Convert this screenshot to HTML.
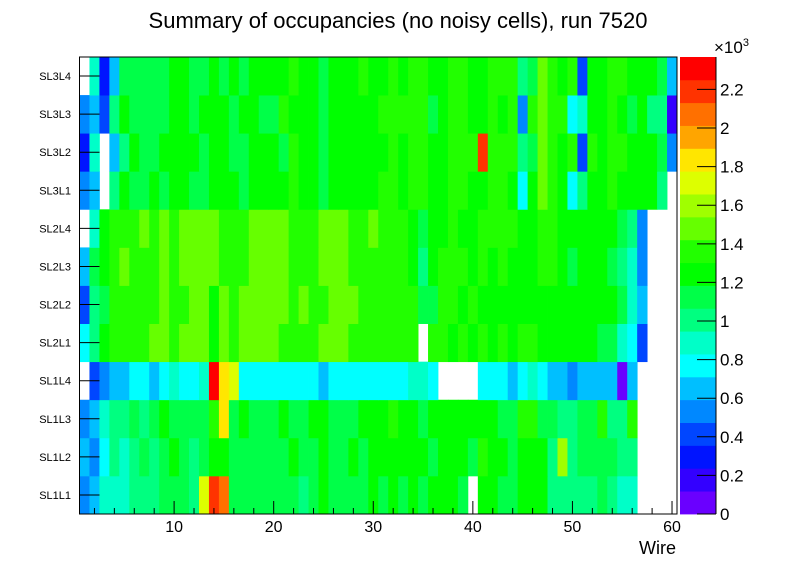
<!DOCTYPE html>
<html><head><meta charset="utf-8">
<style>
html,body{margin:0;padding:0;background:#fff;}
svg{display:block;font-family:"Liberation Sans",sans-serif;}
</style></head>
<body>
<svg id="chart" width="796" height="572" viewBox="0 0 796 572">
<text x="398" y="28" text-anchor="middle" font-size="22">Summary of occupancies (no noisy cells), run 7520</text>
<g id="cells"></g>
<g id="axes"></g>
<g id="cbar"></g>
<text x="676" y="554" text-anchor="end" font-size="18">Wire</text>
</svg>
<script>
const rowLabels = ["SL1L1","SL1L2","SL1L3","SL1L4","SL2L1","SL2L2","SL2L3","SL2L4","SL3L1","SL3L2","SL3L3","SL3L4"];
const xTickLabels = [10,20,30,40,50,60];
const zTickLabels = [0,0.2,0.4,0.6,0.8,1,1.2,1.4,1.6,1.8,2,2.2];
const zMax = 2368;
const palette = ["#6a00ff","#3300ff","#0014ff","#0046ff","#0088ff","#00bfff","#00ffff","#00ffc8","#00ff80","#00ff48","#00ff00","#22ff00","#66ff00","#a0ff00","#ddff00","#ffe600","#ffa500","#ff7000","#ff3300","#ff0000"];
const SL1L1 = [530,650,890,890,890,1010,1010,1010,1130,1130,1130,1010,1720,2190,2070,1130,1130,1130,1130,1130,1130,1130,1010,1130,1240,1130,1130,1130,1130,1240,1130,1240,1130,1240,1130,1240,1240,1240,1130,null,1240,1240,1130,1130,1240,1240,1240,1010,1010,1010,1010,1010,1130,1010,890,890,null,null,null,null];
const SL1L2 = [650,530,770,1010,890,1010,1130,1010,1130,1240,1130,1010,1130,1240,1240,1130,1130,1130,1130,1130,1130,1240,1130,1130,1240,1130,1130,1240,1130,1240,1240,1240,1240,1240,1240,1130,1240,1240,1240,1130,1360,1240,1240,1130,1240,1240,1240,1010,1600,1010,1130,1130,1130,1130,1010,1010,null,null,null,null];
const SL1L3 = [530,650,890,1010,1010,1130,1010,1130,1240,1130,1130,1130,1130,1360,1840,1130,1240,1130,1130,1130,1240,1130,1130,1240,1240,1130,1130,1130,1240,1240,1240,1360,1240,1240,1130,1240,1240,1240,1240,1240,1240,1240,1130,1130,1360,1360,1130,1130,1010,1010,1130,1130,1360,1010,1010,1360,null,null,null,null];
const SL1L4 = [null,410,530,650,650,770,770,650,770,890,770,770,890,2310,1840,1720,770,770,770,770,770,770,770,770,650,770,770,770,770,770,770,770,770,890,890,770,null,null,null,null,770,770,770,650,770,890,770,650,650,530,650,650,650,650,60,650,null,null,null,null];
const SL2L1 = [770,1010,1240,1360,1360,1360,1360,1480,1480,1360,1480,1480,1480,1240,1480,1360,1480,1480,1480,1480,1360,1360,1360,1360,1480,1480,1480,1360,1360,1360,1360,1360,1360,1360,null,1360,1360,1240,1360,1240,1360,1240,1360,1240,1360,1360,1240,1240,1240,1240,1240,1240,1130,1130,890,770,410,null,null,null];
const SL2L2 = [410,1010,1130,1360,1360,1360,1360,1360,1480,1360,1360,1480,1480,1240,1480,1360,1480,1480,1480,1480,1480,1360,1480,1360,1360,1480,1480,1480,1360,1360,1360,1360,1360,1360,1130,1130,1360,1360,1240,1360,1240,1240,1240,1240,1240,1240,1240,1240,1240,1240,1240,1240,1240,1240,1130,890,650,null,null,null];
const SL2L3 = [650,1130,1240,1360,1480,1360,1360,1360,1480,1360,1480,1480,1480,1480,1360,1360,1360,1480,1480,1480,1480,1360,1360,1360,1480,1480,1480,1360,1360,1360,1360,1360,1360,1240,1010,1240,1360,1360,1360,1240,1360,1240,1360,1240,1240,1240,1360,1360,1240,1130,1240,1240,1240,1130,1010,890,530,null,null,null];
const SL2L4 = [null,890,1240,1360,1360,1360,1480,1360,1480,1360,1480,1480,1480,1480,1360,1360,1360,1480,1480,1480,1480,1360,1360,1360,1480,1480,1480,1360,1360,1480,1360,1360,1360,1240,1130,1240,1240,1360,1240,1240,1360,1360,1360,1360,1240,1240,1360,1360,1240,1240,1240,1240,1240,1240,1130,1010,530,null,null,null];
const SL3L1 = [530,650,null,1010,1240,1130,1130,1240,1130,1240,1240,1130,1130,1240,1240,1240,1130,1240,1240,1240,1240,1360,1240,1240,1130,1240,1240,1240,1240,1240,1360,1360,1240,1360,1360,1240,1240,1360,1360,1240,1240,1360,1360,1240,770,1240,1480,1360,1240,770,1010,1240,1240,1360,1240,1240,1240,1240,1010,null];
const SL3L2 = [300,890,null,650,1010,1240,1130,1130,1240,1240,1240,1240,1130,1240,1240,1130,1130,1240,1240,1240,1130,1360,1240,1240,1130,1240,1240,1240,1240,1240,1240,1360,1240,1360,1360,1240,1240,1360,1360,1360,2190,1360,1360,1360,1010,1130,1480,1360,1240,1360,410,1360,1240,1360,1360,1240,1240,1240,1130,530];
const SL3L3 = [530,650,410,1010,1240,1130,1130,1130,1130,1240,1240,1130,1240,1240,1240,1130,1240,1240,1130,1130,1360,1240,1240,1240,1130,1240,1240,1240,1240,1240,1360,1360,1360,1360,1360,1130,1240,1360,1360,1240,1240,1360,1240,1360,530,1360,1480,1360,1360,770,890,1240,1240,1360,1240,1130,1240,1010,1010,180];
const SL3L4 = [null,890,300,650,1130,1130,1130,1130,1130,1240,1240,1130,1130,1240,1130,1240,1130,1240,1240,1240,1240,1360,1240,1240,1130,1240,1240,1240,1360,1240,1240,1360,1240,1360,1360,1240,1240,1360,1360,1240,1240,1360,1360,1360,1010,1130,1480,1360,1240,1360,410,1240,1240,1360,1360,1240,1240,1240,1130,650];
const rows = [SL1L1,SL1L2,SL1L3,SL1L4,SL2L1,SL2L2,SL2L3,SL2L4,SL3L1,SL3L2,SL3L3,SL3L4];

const NS = "http://www.w3.org/2000/svg";
const X0 = 79.5, X1 = 677, Y0 = 57, Y1 = 514;
const xMin = 0.5, xMax = 60.5;
function xs(w){ return X0 + (w - xMin) / (xMax - xMin) * (X1 - X0); }
function ys(r){ return Y1 - r / rows.length * (Y1 - Y0); }
function zs(v){ return Y1 - v / zMax * (Y1 - Y0); }
function colorOf(v){ let i = Math.floor(v / zMax * palette.length); if(i<0)i=0; if(i>=palette.length)i=palette.length-1; return palette[i]; }
function mk(tag, attrs){ const e = document.createElementNS(NS, tag); for (const k in attrs) e.setAttribute(k, attrs[k]); return e; }

const cells = document.getElementById("cells");
rows.forEach((row, r) => {
  row.forEach((v, c) => {
    if (v === null || v <= 0) return;
    const w = c + 1;
    const x = xs(w - 0.5), x2 = xs(w + 0.5);
    const rect = mk("rect", {x: x, y: ys(r + 1), width: x2 - x + 0.4, height: ys(r) - ys(r + 1) + 0.4, fill: colorOf(v)});
    
    
    cells.appendChild(rect);
  });
});

const axes = document.getElementById("axes");
const frame = mk("rect", {x: X0, y: Y0, width: X1 - X0, height: Y1 - Y0, fill: "none", stroke: "#000", "stroke-width": 1});


axes.appendChild(frame);
for (let w = 2; w <= 60; w += 2) {
  const major = (w % 10 === 0);
  const t = mk("line", {x1: xs(w), x2: xs(w), y1: Y1, y2: Y1 - (major ? 13 : 6), stroke: "#000", "stroke-width": 1});
  
  
  axes.appendChild(t);
}
xTickLabels.forEach(v => {
  const t = mk("text", {x: xs(v), y: 532, "text-anchor": "middle", "font-size": 16});
  t.textContent = v;
  
  
  axes.appendChild(t);
});
rowLabels.forEach((lab, r) => {
  const yc = (ys(r) + ys(r + 1)) / 2;
  const tk = mk("line", {x1: X0, x2: X0 + 20, y1: yc, y2: yc, stroke: "#000", "stroke-width": 1});
  
  
  axes.appendChild(tk);
  const t = mk("text", {x: 71, y: yc + 4, "text-anchor": "end", "font-size": 11});
  t.textContent = lab;
  
  
  axes.appendChild(t);
});

const cbar = document.getElementById("cbar");
const CX0 = 680, CX1 = 716;
palette.forEach((col, i) => {
  const v0 = i * zMax / palette.length, v1 = (i + 1) * zMax / palette.length;
  const b = mk("rect", {x: CX0, y: zs(v1), width: CX1 - CX0, height: zs(v0) - zs(v1) + 0.4, fill: col});
  
  
  cbar.appendChild(b);
});
const cl = mk("line", {x1: CX1, x2: CX1, y1: Y0, y2: Y1, stroke: "#000", "stroke-width": 1});


cbar.appendChild(cl);
zTickLabels.forEach(v => {
  const y = zs(v * 1000);
  const tk = mk("line", {x1: CX1 - 19, x2: CX1, y1: y, y2: y, stroke: "#000", "stroke-width": 1});
  
  
  cbar.appendChild(tk);
  const t = mk("text", {x: 720, y: y + 6, "font-size": 17});
  t.textContent = v;
  
  
  cbar.appendChild(t);
});
const ex = mk("text", {x: 714, y: 53, "font-size": 17});
ex.textContent = "×10";


const sup = mk("tspan", {dy: -7, "font-size": 11});
sup.textContent = "3";
ex.appendChild(sup);
cbar.appendChild(ex);
</script>
</body></html>
